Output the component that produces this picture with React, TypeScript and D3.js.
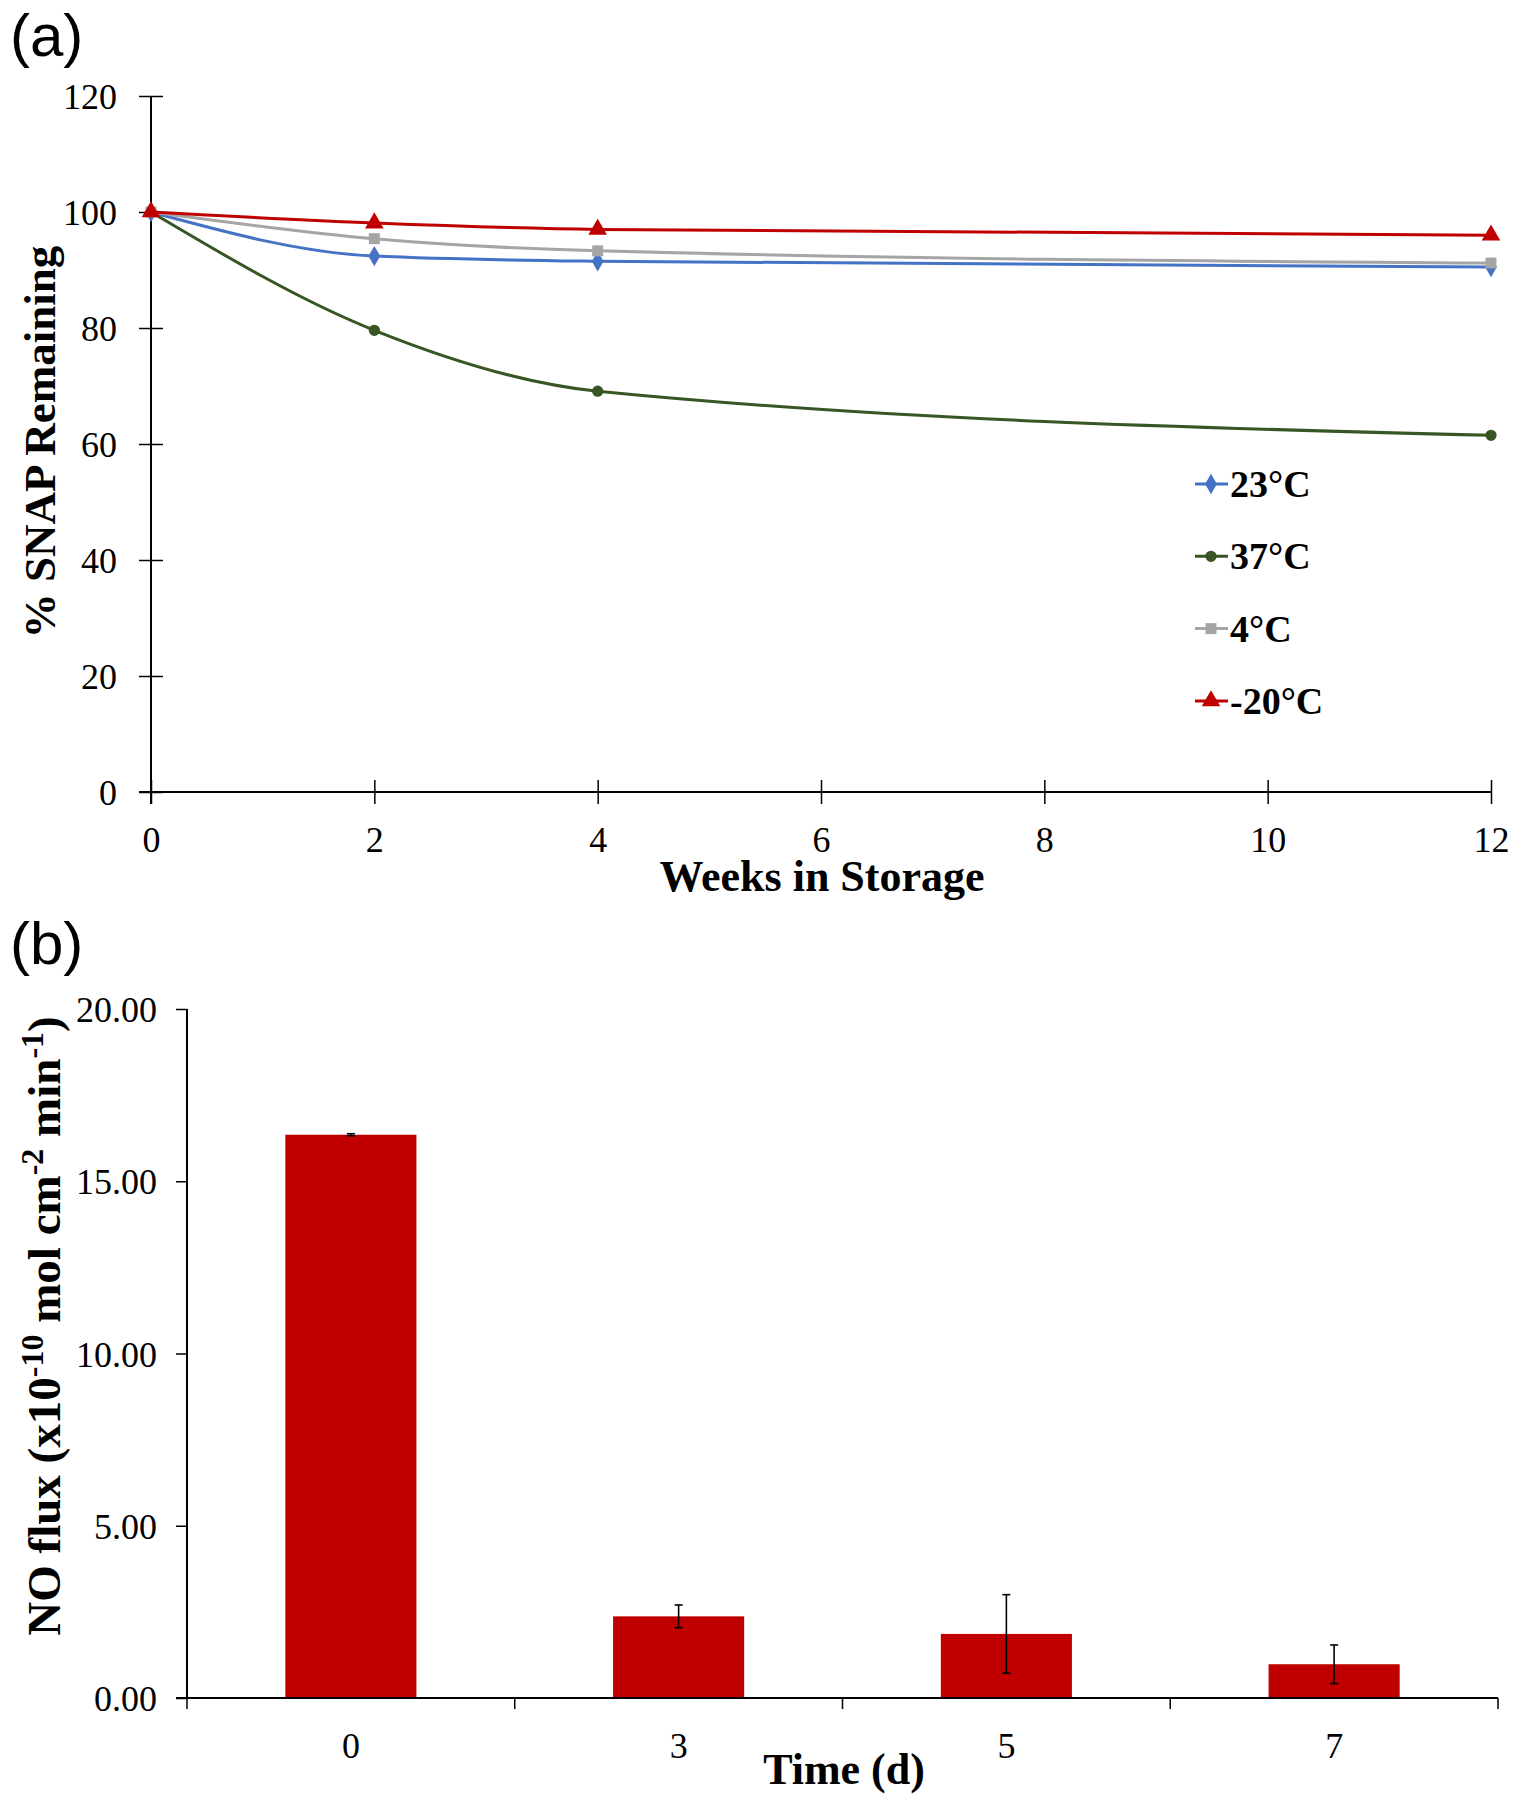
import { useEffect, useRef } from 'react'
import * as d3 from 'd3'

// panel (a): % SNAP remaining vs weeks in storage
const weeks = [0, 2, 4, 12]
const seriesNames = ['23°C', '37°C', '4°C', '-20°C']
const snap23 = [100, 92.4, 91.5, 90.5]
const snap37 = [100, 79.6, 69.1, 61.5]
const snap4 = [100, 95.4, 93.3, 91.2]
const snapMinus20 = [100, 98.1, 97.0, 96.0]
const seriesColors = ['#4472C4', '#375623', '#A5A5A5', '#C00000']
const weekTicks = [0, 2, 4, 6, 8, 10, 12]
const pctTicks = [0, 20, 40, 60, 80, 100, 120]

// panel (b): NO flux vs time
const days = ['0', '3', '5', '7']
const flux = [16.35, 2.37, 1.86, 0.98]
const fluxErr = [0.03, 0.33, 1.14, 0.56]
const fluxTicks = [0, 5, 10, 15, 20]

const serif = '"Liberation Serif", "Times New Roman", serif'
const sans = '"Liberation Sans", Arial, sans-serif'

const symbolTypes = [d3.symbolDiamond, d3.symbolCircle, d3.symbolSquare, d3.symbolTriangle]
const symbolSizes = [120, 100, 120, 150]

export default function App() {
  const ref = useRef<SVGSVGElement>(null)

  useEffect(() => {
    const svg = d3.select(ref.current)
    svg.selectAll('*').remove()

    // ---------- panel (a) ----------
    svg.append('text').attr('x', 10).attr('y', 56)
      .style('font-family', sans).style('font-size', '60px').text('(a)')

    const x = d3.scaleLinear().domain([0, 12]).range([151, 1491])
    const y = d3.scaleLinear().domain([0, 120]).range([792, 96])
    const a = svg.append('g')

    // axes
    const xa = a.append('g').attr('transform', `translate(0,${y(0)})`)
      .call(d3.axisBottom(x).tickValues(weekTicks).tickSize(12).tickSizeOuter(0))
    xa.select('.domain').remove()
    xa.append('line').attr('x1', x(0) - 12).attr('x2', x(12)).attr('stroke', '#000').attr('stroke-width', 2)
    xa.selectAll('.tick line').attr('y1', -12).attr('stroke-width', 1.5)
    xa.selectAll('.tick text').attr('y', 47).attr('dy', '0.35em')
      .style('font-family', serif).style('font-size', '36px').attr('fill', '#000')

    const ya = a.append('g').attr('transform', `translate(${x(0)},0)`)
      .call(d3.axisLeft(y).tickValues(pctTicks).tickSize(12).tickSizeOuter(0))
    ya.select('.domain').remove()
    ya.append('line').attr('y1', y(0) + 12).attr('y2', y(120)).attr('stroke', '#000').attr('stroke-width', 2)
    ya.selectAll('.tick line').attr('x1', 12).attr('stroke-width', 1.5)
    ya.selectAll('.tick text').attr('x', -34).attr('dy', '0.35em')
      .style('font-family', serif).style('font-size', '36px').attr('fill', '#000')

    a.append('text').attr('x', 822).attr('y', 891).attr('text-anchor', 'middle')
      .style('font-family', serif).style('font-weight', 700).style('font-size', '44px')
      .text('Weeks in Storage')
    a.append('text').attr('transform', 'translate(55,442) rotate(-90)').attr('text-anchor', 'middle')
      .style('font-family', serif).style('font-weight', 700).style('font-size', '45px')
      .text('% SNAP Remaining')

    const allSeries = [snap23, snap37, snap4, snapMinus20]
    const line = d3.line<number>()
      .x((_, i) => x(weeks[i]))
      .y((d) => y(d))
      .curve(d3.curveMonotoneX)

    allSeries.forEach((vals, si) => {
      a.append('path').attr('d', line(vals)).attr('fill', 'none')
        .attr('stroke', seriesColors[si]).attr('stroke-width', 3)
      a.selectAll(null).data(vals).enter().append('path')
        .attr('transform', (d, i) => `translate(${x(weeks[i])},${y(d)})`)
        .attr('d', d3.symbol().type(symbolTypes[si]).size(symbolSizes[si])())
        .attr('fill', seriesColors[si])
    })

    // legend
    const legend = a.append('g')
    seriesNames.forEach((name, i) => {
      const cy = 484 + i * 72.3
      legend.append('line').attr('x1', 1195).attr('x2', 1228).attr('y1', cy).attr('y2', cy)
        .attr('stroke', seriesColors[i]).attr('stroke-width', 3)
      legend.append('path').attr('transform', `translate(1211,${cy})`)
        .attr('d', d3.symbol().type(symbolTypes[i]).size(symbolSizes[i])())
        .attr('fill', seriesColors[i])
      legend.append('text').attr('x', 1230).attr('y', cy + 13)
        .style('font-family', serif).style('font-weight', 700).style('font-size', '38px')
        .text(name)
    })

    // ---------- panel (b) ----------
    svg.append('text').attr('x', 10).attr('y', 964)
      .style('font-family', sans).style('font-size', '60px').text('(b)')

    const xb = d3.scaleBand().domain(days).range([187, 1498]).paddingInner(0.6).paddingOuter(0.3)
    const yb = d3.scaleLinear().domain([0, 20]).range([1698, 1009])
    const b = svg.append('g')

    b.selectAll('rect').data(flux).enter().append('rect')
      .attr('x', (d, i) => xb(days[i]) as number)
      .attr('width', xb.bandwidth())
      .attr('y', (d) => yb(d))
      .attr('height', (d) => yb(0) - yb(d))
      .attr('fill', '#C00000')

    // error bars
    const eb = b.append('g').attr('stroke', '#000').attr('stroke-width', 1.6)
    flux.forEach((v, i) => {
      const cx = (xb(days[i]) as number) + xb.bandwidth() / 2
      const top = yb(v + fluxErr[i])
      const bot = yb(v - fluxErr[i])
      eb.append('line').attr('x1', cx).attr('x2', cx).attr('y1', top).attr('y2', bot)
      eb.append('line').attr('x1', cx - 4).attr('x2', cx + 4).attr('y1', top).attr('y2', top)
      eb.append('line').attr('x1', cx - 4).attr('x2', cx + 4).attr('y1', bot).attr('y2', bot)
    })

    const yba = b.append('g').attr('transform', `translate(187,0)`)
      .call(d3.axisLeft(yb).tickValues(fluxTicks).tickSize(11).tickSizeOuter(0).tickFormat(d3.format('.2f')))
    yba.select('.domain').remove()
    yba.append('line').attr('y1', yb(0)).attr('y2', yb(20)).attr('stroke', '#000').attr('stroke-width', 2)
    yba.selectAll('.tick line').attr('stroke-width', 1.5)
    yba.selectAll('.tick text').attr('x', -30).attr('dy', '0.35em')
      .style('font-family', serif).style('font-size', '36px').attr('fill', '#000')

    // category boundary ticks
    const bounds = d3.range(days.length + 1).map((i) => 187 + i * xb.step())
    const xba = b.append('g')
    xba.append('line').attr('x1', 176).attr('x2', 1498).attr('y1', yb(0)).attr('y2', yb(0))
      .attr('stroke', '#000').attr('stroke-width', 2)
    xba.selectAll('line.tick').data(bounds).enter().append('line')
      .attr('x1', (d) => d).attr('x2', (d) => d).attr('y1', yb(0)).attr('y2', yb(0) + 11)
      .attr('stroke', '#000').attr('stroke-width', 1.5)
    xba.selectAll('text').data(days).enter().append('text')
      .attr('x', (d) => (xb(d) as number) + xb.bandwidth() / 2)
      .attr('y', yb(0) + 47).attr('dy', '0.35em').attr('text-anchor', 'middle')
      .style('font-family', serif).style('font-size', '36px')
      .text((d) => d)

    b.append('text').attr('x', 844).attr('y', 1784).attr('text-anchor', 'middle')
      .style('font-family', serif).style('font-weight', 700).style('font-size', '44px')
      .text('Time (d)')

    const yt = b.append('text').attr('transform', 'translate(60,1326) rotate(-90)').attr('text-anchor', 'middle')
      .style('font-family', serif).style('font-weight', 700).style('font-size', '47px')
    yt.append('tspan').text('NO flux (x10')
    yt.append('tspan').attr('dy', -17).style('font-size', '32px').text('-10')
    yt.append('tspan').attr('dy', 17).text(' mol cm')
    yt.append('tspan').attr('dy', -17).style('font-size', '32px').text('-2')
    yt.append('tspan').attr('dy', 17).text(' min')
    yt.append('tspan').attr('dy', -17).style('font-size', '32px').text('-1')
    yt.append('tspan').attr('dy', 17).text(')')
  }, [])

  return (
    <svg ref={ref} width={1519} height={1800}
      style={{ position: 'absolute', left: 0, top: 0, background: '#fff' }} />
  )
}
